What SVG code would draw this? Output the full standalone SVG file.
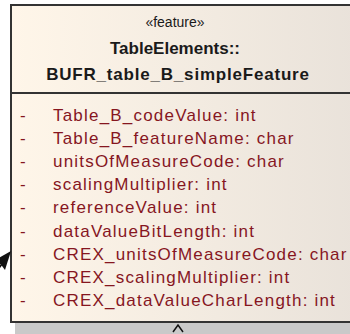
<svg xmlns="http://www.w3.org/2000/svg" width="350" height="334" viewBox="0 0 350 334">
  <defs>
    <linearGradient id="classFill" x1="0" y1="0" x2="1" y2="0">
      <stop offset="0" stop-color="#fff6e9"/>
      <stop offset="1" stop-color="#e9e2da"/>
    </linearGradient>
  </defs>
  <style>
    .stereo { font-family: "Liberation Sans", Arial, sans-serif; font-size: 14px; fill: #1a1a1a; text-anchor: middle; }
    .title { font-family: "Liberation Sans", Arial, sans-serif; font-size: 17px; font-weight: bold; fill: #1a1a1a; text-anchor: middle; }
    .attr { font-family: "Liberation Sans", Arial, sans-serif; font-size: 17px; fill: #86161f; letter-spacing: 1.2px; }
    .vis { font-family: "Liberation Sans", Arial, sans-serif; font-size: 17px; fill: #86161f; }
    .border { fill: none; stroke: #333333; stroke-width: 2; }
  </style>
  <rect width="350" height="334" fill="#ffffff"/>

  <g id="BUFR_table_B_simpleFeature">
    <!-- drop shadow -->
    <rect x="15" y="323" width="340" height="11" fill="#c9c9c9"/>
    <rect x="11" y="5" width="345" height="317" fill="url(#classFill)"/>
    <rect x="11" y="5" width="345" height="317" class="border"/>
    <line x1="11" y1="93" x2="356" y2="93" class="border"/>

    <text class="stereo" x="175" y="27">«feature»</text>
    <text class="title" x="175" y="54">TableElements::</text>
    <text class="title" x="178" y="80" letter-spacing="0.8">BUFR_table_B_simpleFeature</text>

    <g>
      <text class="vis" x="20" y="121">-</text>
      <text class="attr" x="53" y="121">Table_B_codeValue: int</text>
      <text class="vis" x="20" y="144">-</text>
      <text class="attr" x="53" y="144">Table_B_featureName: char</text>
      <text class="vis" x="20" y="167">-</text>
      <text class="attr" x="53" y="167">unitsOfMeasureCode: char</text>
      <text class="vis" x="20" y="190">-</text>
      <text class="attr" x="53" y="190">scalingMultiplier: int</text>
      <text class="vis" x="20" y="213">-</text>
      <text class="attr" x="53" y="213">referenceValue: int</text>
      <text class="vis" x="20" y="237">-</text>
      <text class="attr" x="53" y="237">dataValueBitLength: int</text>
      <text class="vis" x="20" y="260">-</text>
      <text class="attr" x="53" y="260">CREX_unitsOfMeasureCode: char</text>
      <text class="vis" x="20" y="283">-</text>
      <text class="attr" x="53" y="283">CREX_scalingMultiplier: int</text>
      <text class="vis" x="20" y="306">-</text>
      <text class="attr" x="53" y="306">CREX_dataValueCharLength: int</text>
    </g>
  </g>

  <g id="connectors">
    <!-- association arriving from lower left, filled arrowhead at the class edge -->
    <line x1="2" y1="264" x2="-6" y2="274" stroke="#111111" stroke-width="2"/>
    <polygon points="11,251 -3,259 5,270" fill="#111111"/>
    <!-- connector leaving the bottom edge -->
    <polyline points="173,332 178,325 183,332" fill="none" stroke="#111111" stroke-width="1.5"/>
  </g>
</svg>
